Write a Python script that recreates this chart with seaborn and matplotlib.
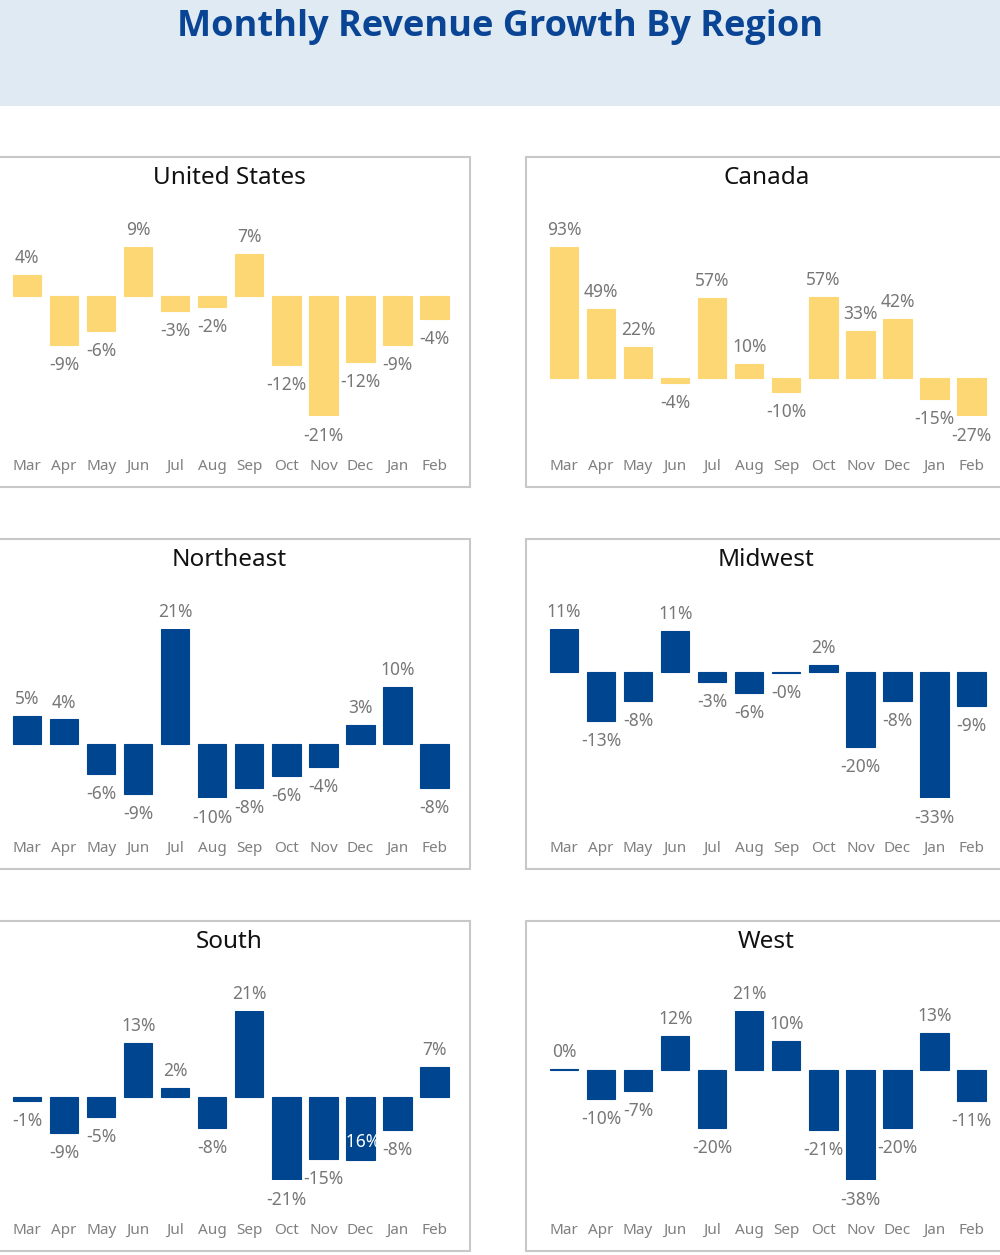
import matplotlib
matplotlib.use("Agg")
import matplotlib.pyplot as plt
from matplotlib.patches import Rectangle
import seaborn as sns

# month-over-month revenue growth (%)
months = ["Mar", "Apr", "May", "Jun", "Jul", "Aug", "Sep", "Oct", "Nov", "Dec", "Jan", "Feb"]
regions = ["United States", "Canada", "Northeast", "Midwest", "South", "West"]

us = [3.6, -8.6, -6.2, 8.6, -2.6, -2.0, 7.3, -12.2, -21.0, -11.6, -8.6, -4.1]
canada = [93.0, 48.9, 22.2, -3.8, 56.6, 9.7, -9.9, 57.4, 33.3, 41.6, -14.9, -26.7]
northeast = [5.1, 4.4, -5.6, -9.3, 21.0, -9.9, -8.2, -5.9, -4.3, 3.4, 10.4, -8.2]
midwest = [11.2, -12.8, -7.6, 10.6, -2.6, -5.6, -0.3, 1.7, -19.7, -7.7, -32.8, -8.8]
south = [-1.2, -9.0, -5.1, 13.3, 2.2, -7.7, 21.3, -20.6, -15.4, -15.8, -8.2, 7.4]
west = [0.3, -10.0, -7.2, 11.8, -20.3, 20.7, 10.0, -21.0, -38.2, -20.2, 12.9, -10.8]

series = [us, canada, northeast, midwest, south, west]

# labels that sit inside the bar (neighbouring label would collide)
inside_labels = {("South", "Dec")}

YELLOW = "#fdd774"
BLUE = "#00458f"
bar_colors = [YELLOW, YELLOW, BLUE, BLUE, BLUE, BLUE]

sns.set_theme(style="white")
plt.rcParams["font.family"] = ["Noto Sans", "DejaVu Sans"]

W, H = 1000, 1255
fig = plt.figure(figsize=(W / 100, H / 100), dpi=100)


def fx(px):
    return px / W


def fy(py):
    return 1 - py / H


# title banner
fig.patches.append(Rectangle((0, fy(106)), 1, 106 / H, transform=fig.transFigure,
                             facecolor="#dfeaf2", edgecolor="none", zorder=-2))
fig.text(0.5, fy(27), "Monthly Revenue Growth By Region", ha="center", va="center",
         fontsize=26, fontweight="bold", family=["Open Sans", "DejaVu Sans"],
         color="#0a4595")

col_x = [-11, 526]
row_y = [157, 539, 921]
panel_w, panel_h = 481, 330

for i, (name, vals, color) in enumerate(zip(regions, series, bar_colors)):
    x0 = col_x[i % 2]
    y0 = row_y[i // 2]

    # panel frame
    fig.patches.append(Rectangle((fx(x0), fy(y0 + panel_h)), panel_w / W, panel_h / H,
                                 transform=fig.transFigure, facecolor="white",
                                 edgecolor="#c8c8c8", linewidth=1.5, zorder=-1))
    fig.text(fx(x0 + panel_w / 2), fy(y0 + 21), name, ha="center", va="center",
             fontsize=17.5, color="#111111")

    ax = fig.add_axes([fx(x0 + 19.5), fy(y0 + 258.7), 444.6 / W, 169 / H])
    ax.patch.set_alpha(0)
    sns.barplot(x=months, y=vals, color=color, saturation=1, width=0.765, ax=ax,
                edgecolor=color, linewidth=0.8)
    ax.set_xlim(-0.5, 11.5)
    ax.set_ylim(min(0, min(vals)), max(0, max(vals)))
    sns.despine(ax=ax, left=True, bottom=True)
    ax.set_yticks([])
    ax.set_xlabel("")
    ax.set_ylabel("")
    ax.tick_params(axis="x", length=0, pad=31, labelsize=11, labelcolor="#808080")

    for j, v in enumerate(vals):
        label = f"{v:.0f}%"
        if (name, months[j]) in inside_labels:
            ax.annotate(label, (j, v), xytext=(0, 13), textcoords="offset points",
                        ha="center", va="center", fontsize=12.5, color="white",
                        annotation_clip=False)
        else:
            off = 12.2 if v >= 0 else -14.4
            ax.annotate(label, (j, v), xytext=(0, off), textcoords="offset points",
                        ha="center", va="center", fontsize=12.5, color="#777777",
                        annotation_clip=False)

fig.savefig("out.png", dpi=100)
